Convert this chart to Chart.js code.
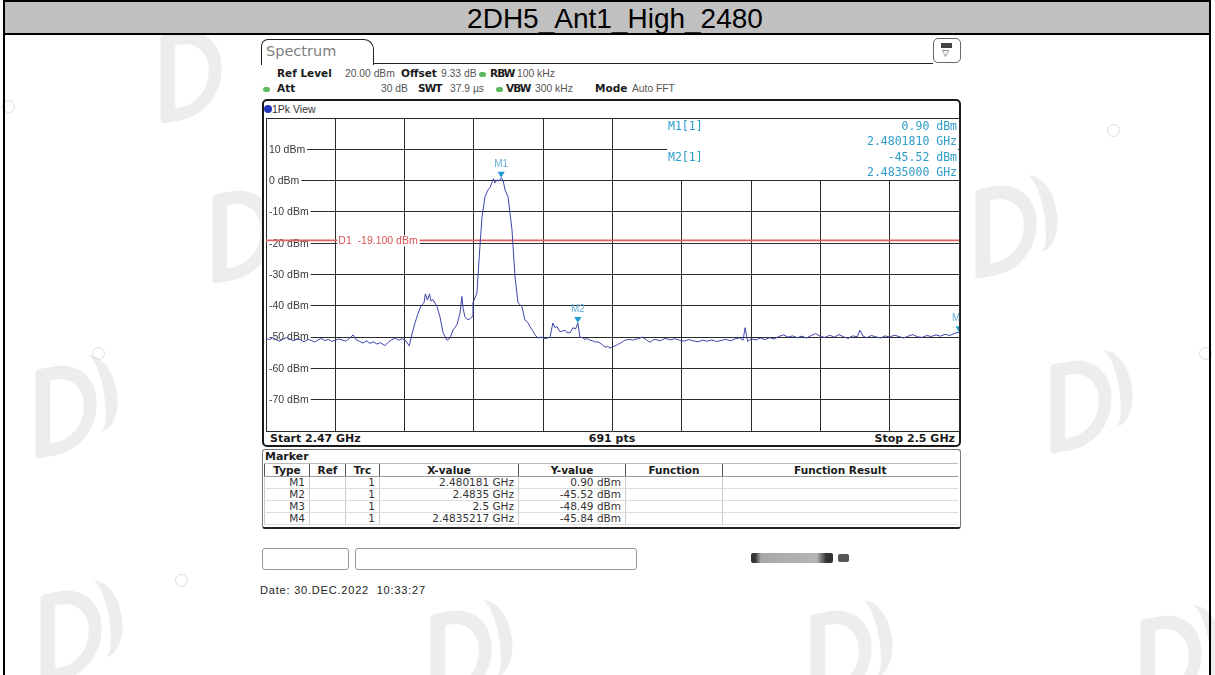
<!DOCTYPE html>
<html>
<head>
<meta charset="utf-8">
<script src="https://cdn.jsdelivr.net/npm/chart.js@4.4.1/dist/chart.umd.min.js"></script>
<style>
html,body{margin:0;padding:0;background:#fff;}
body{width:1215px;height:675px;overflow:hidden;position:relative;font-family:'DejaVu Sans',sans-serif;color:#222;}
.a{position:absolute;white-space:nowrap;line-height:1;}
.wd{position:absolute;width:34px;height:62px;border:13px solid #ededed;border-left-width:15px;border-radius:4px 42px 42px 4px;transform:rotate(-10deg) skewX(-10deg);}
.ws{position:absolute;width:34px;height:78px;border-right:13px solid #ededed;border-radius:50%;transform:rotate(-10deg);}
.rg{position:absolute;width:11px;height:11px;border:1px solid #dcdcdc;border-radius:50%;}
#frame{position:absolute;left:3px;top:0;width:1208px;height:690px;border:2px solid #000;box-sizing:border-box;}
#titlebar{position:absolute;left:5px;top:2px;width:1204px;height:31px;background:#c0c0c0;border-bottom:2px solid #000;}
#title{position:absolute;left:13px;width:1204px;top:5px;text-align:center;font-family:'Liberation Sans',Arial,sans-serif;font-size:28px;color:#000;line-height:1;}
#tab{position:absolute;left:261px;top:39px;width:111px;height:25px;border:1.5px solid #222;border-bottom:none;border-radius:7px 10px 0 0;background:#fff;}
#tabline{position:absolute;left:373px;top:63px;width:560px;height:0;border-top:1.5px solid #222;}
#icon{position:absolute;left:933px;top:38px;width:26px;height:23px;border:1px solid #666;border-radius:5px;background:#fff;}
.hb{font-family:'DejaVu Sans',sans-serif;font-weight:bold;font-size:10.5px;color:#1a1a1a;}
.hc{letter-spacing:-0.9px;}
.hv{font-family:'Liberation Sans',Arial,sans-serif;font-size:10.3px;color:#555;}
.dot{position:absolute;width:7px;height:5px;border-radius:3px;background:#5cb85c;}
#plotframe{position:absolute;left:262px;top:99px;width:699px;height:348px;border:2px solid #1a1a1a;border-radius:5px;box-sizing:border-box;background:#fff;}
.bb{font-family:'DejaVu Sans',sans-serif;font-weight:bold;font-size:11px;color:#1a1a1a;}
#mpanel{position:absolute;left:262px;top:449px;width:699px;height:80px;border:1px solid #777;border-bottom:2px solid #222;border-radius:3px;box-sizing:border-box;background:#fff;}
table#mt{position:absolute;left:264px;top:463px;border-collapse:collapse;font-family:'DejaVu Sans',sans-serif;font-size:10.5px;color:#333;table-layout:fixed;}
#mt td,#mt th{padding:0 4px;height:11px;line-height:11px;border-left:1px solid #ccc;border-bottom:1px solid #ddd;overflow:hidden;}
#mt th{font-weight:bold;color:#1a1a1a;border-left:1px solid #555;border-top:1px solid #bbb;border-bottom:1px solid #999;text-align:center;height:12px;line-height:12px;}
#mt td{text-align:right;}
.box{position:absolute;top:548px;height:22px;border:1px solid #999;border-radius:3px;box-sizing:border-box;background:#fff;}
#date{font-family:'Liberation Sans',Arial,sans-serif;font-size:11px;color:#222;letter-spacing:0.8px;}
canvas{position:absolute;left:0;top:0;}
</style>
</head>
<body>
<!-- faint background watermark shapes -->
<div class="wd" style="left:160px;top:30px;"></div>
<div class="wd" style="left:212px;top:190px;"></div>
<div class="wd" style="left:35px;top:365px;"></div><div class="ws" style="left:70px;top:355px;"></div>
<div class="wd" style="left:975px;top:185px;"></div><div class="ws" style="left:1010px;top:175px;"></div>
<div class="wd" style="left:1050px;top:360px;"></div><div class="ws" style="left:1085px;top:350px;"></div>
<div class="wd" style="left:40px;top:590px;"></div><div class="ws" style="left:75px;top:580px;"></div>
<div class="wd" style="left:430px;top:610px;"></div><div class="ws" style="left:465px;top:600px;"></div>
<div class="wd" style="left:810px;top:610px;"></div><div class="ws" style="left:845px;top:600px;"></div>
<div class="wd" style="left:1140px;top:615px;"></div><div class="ws" style="left:1175px;top:605px;"></div>
<div class="rg" style="left:2px;top:100px;"></div>
<div class="rg" style="left:92px;top:347px;"></div>
<div class="rg" style="left:1107px;top:124px;"></div>
<div class="rg" style="left:1199px;top:347px;"></div>
<div class="rg" style="left:175px;top:574px;"></div>

<div id="frame"></div>
<div id="titlebar"></div>
<div id="title">2DH5_Ant1_High_2480</div>

<div id="tab"></div>
<div id="tabline"></div>
<div class="a" style="left:266px;top:44px;font-family:'DejaVu Sans',sans-serif;font-size:14.5px;color:#808080;">Spectrum</div>
<div id="icon"><div style="position:absolute;left:7px;top:4px;width:11px;height:5px;background:#444;"></div><div class="a" style="left:8px;top:10px;font-size:9px;color:#444;">▽</div></div>

<div class="a hb" style="left:277px;top:68px;">Ref Level</div>
<div class="a hv" style="left:345px;top:69px;">20.00 dBm</div>
<div class="a hb" style="left:401px;top:68px;">Offset</div>
<div class="a hv" style="left:441px;top:69px;">9.33 dB</div>
<div class="dot" style="left:479px;top:72px;"></div>
<div class="a hb hc" style="left:490px;top:68px;">RBW</div>
<div class="a hv" style="left:517px;top:69px;">100 kHz</div>

<div class="dot" style="left:263px;top:87px;"></div>
<div class="a hb" style="left:277px;top:83px;">Att</div>
<div class="a hv" style="left:381px;top:84px;">30 dB</div>
<div class="a hb hc" style="left:418px;top:83px;">SWT</div>
<div class="a hv" style="left:450px;top:84px;">37.9 µs</div>
<div class="dot" style="left:496px;top:87px;"></div>
<div class="a hb hc" style="left:506px;top:83px;">VBW</div>
<div class="a hv" style="left:535px;top:84px;">300 kHz</div>
<div class="a hb" style="left:595px;top:83px;">Mode</div>
<div class="a hv" style="left:632px;top:84px;">Auto FFT</div>

<div id="plotframe"></div>
<div style="position:absolute;left:264px;top:105px;width:8px;height:8px;border-radius:4px;background:#2236b8;"></div>
<div class="a" style="left:272px;top:104px;font-family:'Liberation Sans',Arial,sans-serif;font-size:10.5px;color:#333;">1Pk View</div>
<div class="a bb" style="left:270px;top:433px;">Start 2.47 GHz</div>
<div class="a bb" style="left:612px;top:433px;transform:translateX(-50%);">691 pts</div>
<div class="a bb" style="right:260px;top:433px;">Stop 2.5 GHz</div>

<div id="mpanel"></div>
<div class="a bb" style="left:265px;top:451px;">Marker</div>
<table id="mt"></table>

<div class="box" style="left:262px;width:87px;"></div>
<div class="box" style="left:355px;width:282px;"></div>
<div style="position:absolute;left:751px;top:553px;width:82px;height:10px;background:linear-gradient(90deg,#333 0,#333 5%,#a8a8a8 12%,#b5b5b5 80%,#333 92%,#333 100%);border-radius:2px;"></div>
<div style="position:absolute;left:838px;top:554px;width:11px;height:8px;background:#555;border-radius:2px;"></div>

<div class="a" id="date" style="left:260px;top:585px;">Date: 30.DEC.2022&nbsp;&nbsp;10:33:27</div>

<canvas id="c" width="1215" height="675"></canvas>

<script>
// ---- data ----
const freqGHz = [
2.47000,2.47015,2.47030,2.47045,2.47060,2.47075,2.47090,2.47105,2.47120,2.47135,
2.47150,2.47165,2.47180,2.47195,2.47210,2.47225,2.47240,2.47255,2.47270,2.47285,
2.47300,2.47315,2.47330,2.47345,2.47360,2.47377,2.47390,2.47405,2.47420,2.47435,
2.47450,2.47465,2.47480,2.47495,2.47515,2.47530,2.47545,2.47560,2.47575,2.47590,
2.47605,2.47620,2.47632,2.47645,2.47658,2.47671,2.47684,2.47690,2.47699,2.47708,
2.47714,2.47723,2.47740,2.47753,2.47766,2.47784,2.47797,2.47810,2.47827,2.47840,
2.47848,2.47853,2.47861,2.47874,2.47885,2.47892,2.47896,2.47913,2.47926,2.47935,
2.47948,2.47961,2.47970,2.47978,2.47985,2.47991,2.48000,2.48009,2.48018,2.48026,
2.48035,2.48048,2.48065,2.48078,2.48091,2.48108,2.48121,2.48135,2.48143,2.48155,
2.48165,2.48177,2.48192,2.48208,2.48229,2.48242,2.48250,2.48260,2.48273,2.48286,
2.48295,2.48303,2.48316,2.48329,2.48340,2.48350,2.48359,2.48370,2.48381,2.48392,
2.48403,2.48415,2.48425,2.48436,2.48446,2.48457,2.48468,2.48479,2.48489,2.48500,
2.48511,2.48522,2.48532,2.48543,2.48554,2.48565,2.48576,2.48587,2.48597,2.48608,
2.48619,2.48630,2.48641,2.48652,2.48663,2.48674,2.48685,2.48706,2.48717,2.48728,
2.48750,2.48770,2.48790,2.48810,2.48830,2.48850,2.48870,2.48890,2.48910,2.48930,
2.48950,2.48970,2.48990,2.49010,2.49030,2.49050,2.49065,2.49074,2.49085,2.49100,
2.49120,2.49140,2.49160,2.49180,2.49200,2.49220,2.49240,2.49260,2.49280,2.49300,
2.49320,2.49340,2.49360,2.49380,2.49400,2.49420,2.49440,2.49460,2.49480,2.49500,
2.49520,2.49540,2.49560,2.49571,2.49585,2.49600,2.49620,2.49640,2.49660,2.49680,
2.49700,2.49720,2.49740,2.49760,2.49780,2.49800,2.49820,2.49840,2.49860,2.49880,
2.49900,2.49920,2.49940,2.49960,2.49980,2.50000
];
const levelDbm = [
-50.4,-50.8,-50.2,-50.9,-51.3,-50.6,-50.1,-50.7,-51.2,-50.5,
-50.9,-51.5,-50.8,-51.0,-51.6,-50.9,-50.4,-51.1,-50.7,-51.4,
-51.0,-50.6,-50.9,-51.3,-50.5,-49.3,-50.8,-51.4,-51.9,-51.2,
-52.0,-51.5,-52.2,-51.8,-52.7,-51.6,-50.8,-50.3,-51.0,-50.5,
-51.2,-52.8,-49.0,-45.5,-42.5,-40.0,-39.0,-36.2,-38.2,-36.2,
-38.5,-38.0,-40.2,-43.5,-48.5,-51.0,-50.3,-47.7,-46.0,-42.3,
-37.0,-40.7,-43.5,-44.5,-44.0,-43.5,-39.0,-36.0,-21.2,-11.6,
-5.2,-3.0,-2.2,-0.6,0.6,-0.8,0.3,-0.2,0.9,0.2,
-3.0,-5.2,-15.8,-30.8,-39.0,-40.3,-44.5,-45.5,-46.7,-48.0,
-49.3,-50.3,-50.0,-50.5,-50.1,-45.5,-46.9,-46.7,-48.3,-48.0,
-47.8,-48.6,-48.6,-47.0,-47.4,-45.5,-50.0,-50.2,-50.7,-50.5,
-51.0,-51.2,-51.6,-51.5,-51.9,-52.5,-53.2,-53.0,-53.5,-53.1,
-52.8,-52.4,-52.0,-51.5,-51.0,-50.8,-50.7,-51.0,-50.7,-50.6,
-50.3,-50.0,-50.6,-51.2,-51.6,-51.0,-50.7,-51.2,-50.8,-50.4,
-50.9,-50.5,-51.0,-51.3,-50.8,-51.2,-51.5,-51.0,-51.3,-50.9,
-51.4,-51.1,-50.7,-51.2,-50.6,-50.2,-51.0,-47.0,-51.4,-50.5,
-50.9,-50.3,-50.8,-50.2,-50.6,-49.8,-49.3,-50.0,-49.6,-50.2,
-49.7,-50.3,-49.5,-48.9,-49.8,-50.1,-49.4,-50.0,-49.2,-49.9,
-50.4,-49.6,-49.9,-47.8,-49.7,-50.2,-49.5,-49.9,-50.3,-49.6,
-50.0,-49.4,-49.8,-50.3,-49.7,-49.2,-49.9,-50.1,-49.5,-49.8,
-49.3,-49.7,-49.1,-49.5,-48.8,-48.5
];
const yTickValues = [10,0,-10,-20,-30,-40,-50,-60,-70];
const yTickLabels = ['10 dBm','0 dBm','-10 dBm','-20 dBm','-30 dBm','-40 dBm','-50 dBm','-60 dBm','-70 dBm'];
const markerNames = ['M1','M2','M3','M4'];
const markerFreqGHz = [2.480181,2.4835,2.5,2.4835217];
const markerLevelDbm = [0.90,-45.52,-48.49,-45.84];
const markerXText = ['2.480181 GHz','2.4835 GHz','2.5 GHz','2.4835217 GHz'];
const markerOnPlot = ['M1','M2','M3'];
const markerInBox = ['M1','M2'];
const d1Name = 'D1';
const d1Level = -19.1;
const freqStart = 2.47, freqStop = 2.5, levelMin = -80, levelMax = 20;

// ---- marker table ----
(function(){
  const t = document.getElementById('mt');
  const widths = [45,36,34,139,107,97,235];
  const heads = ['Type','Ref','Trc','X-value','Y-value','Function','Function Result'];
  let cg = '<colgroup>' + widths.map(w=>'<col style="width:'+w+'px">').join('') + '</colgroup>';
  let h = '<tr>' + heads.map(x=>'<th>'+x+'</th>').join('') + '</tr>';
  let rows = markerNames.map((n,i)=>'<tr><td>'+n+'</td><td></td><td>1</td><td>'+markerXText[i]+'</td><td>'+markerLevelDbm[i].toFixed(2)+' dBm</td><td></td><td></td></tr>').join('');
  t.innerHTML = cg + h + rows;
})();

const UI = "'Liberation Sans', Arial, sans-serif";
const overlay = {
  id:'overlay',
  beforeDatasetsDraw(chart){
    const c = chart.ctx, a = chart.chartArea, xs = chart.scales.x, ys = chart.scales.y;
    c.save();
    c.font = '10.5px ' + UI;
    c.textBaseline = 'middle';
    yTickValues.forEach((v,i)=>{
      const y = ys.getPixelForValue(v);
      const w = c.measureText(yTickLabels[i]).width;
      c.fillStyle = '#fff';
      c.fillRect(a.left+1, y-5, w+4, 11);
      c.fillStyle = '#3a3a3a';
      c.fillText(yTickLabels[i], a.left+3, y+0.5);
    });
    const yd = ys.getPixelForValue(d1Level);
    c.strokeStyle = '#e26262';
    c.lineWidth = 1.6;
    c.beginPath(); c.moveTo(a.left, yd); c.lineTo(a.right, yd); c.stroke();
    const lbl = d1Name + '  ' + d1Level.toFixed(3) + ' dBm';
    const lx = xs.getPixelForValue(xs.ticks[1].value) + 2;
    const lw = c.measureText(lbl).width;
    c.fillStyle = '#fff';
    c.fillRect(lx, yd-5, lw+3, 11);
    c.fillStyle = '#d9534f';
    c.fillText(lbl, lx+1, yd+1);
    c.restore();
  },
  afterDatasetsDraw(chart){
    const c = chart.ctx, a = chart.chartArea, xs = chart.scales.x, ys = chart.scales.y;
    c.save();
    c.beginPath(); c.rect(a.left, a.top, a.right-a.left, a.bottom-a.top); c.clip();
    markerNames.forEach((n,i)=>{
      if (!markerOnPlot.includes(n)) return;
      const x = xs.getPixelForValue(markerFreqGHz[i]);
      const y = ys.getPixelForValue(markerLevelDbm[i]);
      c.fillStyle = '#1e9ad6';
      c.beginPath(); c.moveTo(x, y); c.lineTo(x-3.5, y-6); c.lineTo(x+3.5, y-6); c.closePath(); c.fill();
      c.font = '10px ' + UI;
      c.textAlign = 'center'; c.textBaseline = 'middle';
      c.fillStyle = '#62aed3';
      c.fillText(n, x, y-14);
    });
    const bx = a.right - 292, by = a.top + 1, bw = 291, bh = 61;
    c.fillStyle = '#fff';
    c.fillRect(bx, by, bw, bh);
    c.font = '11.5px "DejaVu Sans Mono", monospace';
    c.fillStyle = '#2e9ccb';
    c.textBaseline = 'middle';
    markerInBox.forEach((n,k)=>{
      const i = markerNames.indexOf(n);
      const y0 = a.top + 9 + k*31;
      c.textAlign = 'left';
      c.fillText(n + '[1]', bx + 1, y0);
      c.textAlign = 'right';
      c.fillText(markerLevelDbm[i].toFixed(2) + ' dBm', a.right - 2, y0);
      c.fillText(markerFreqGHz[i].toFixed(7) + ' GHz', a.right - 2, y0 + 15);
    });
    c.restore();
  }
};

new Chart(document.getElementById('c'), {
  type:'line',
  data:{ datasets:[{
    data: freqGHz.map((f,i)=>({x:f, y:levelDbm[i]})),
    borderColor:'#3d44a8', borderWidth:1, pointRadius:0, tension:0, fill:false
  }]},
  options:{
    responsive:false, animation:false, devicePixelRatio:1,
    layout:{padding:{left:266, top:118, right:256, bottom:244}},
    plugins:{legend:{display:false}, tooltip:{enabled:false}},
    scales:{
      x:{type:'linear', min:freqStart, max:freqStop,
         ticks:{display:false, stepSize:0.003},
         grid:{color:'#2a2a2a', lineWidth:1, drawTicks:false},
         border:{display:false}},
      y:{type:'linear', min:levelMin, max:levelMax,
         ticks:{display:false, stepSize:10},
         grid:{color:'#2a2a2a', lineWidth:1, drawTicks:false},
         border:{display:false}}
    }
  },
  plugins:[overlay]
});
</script>
</body>
</html>
